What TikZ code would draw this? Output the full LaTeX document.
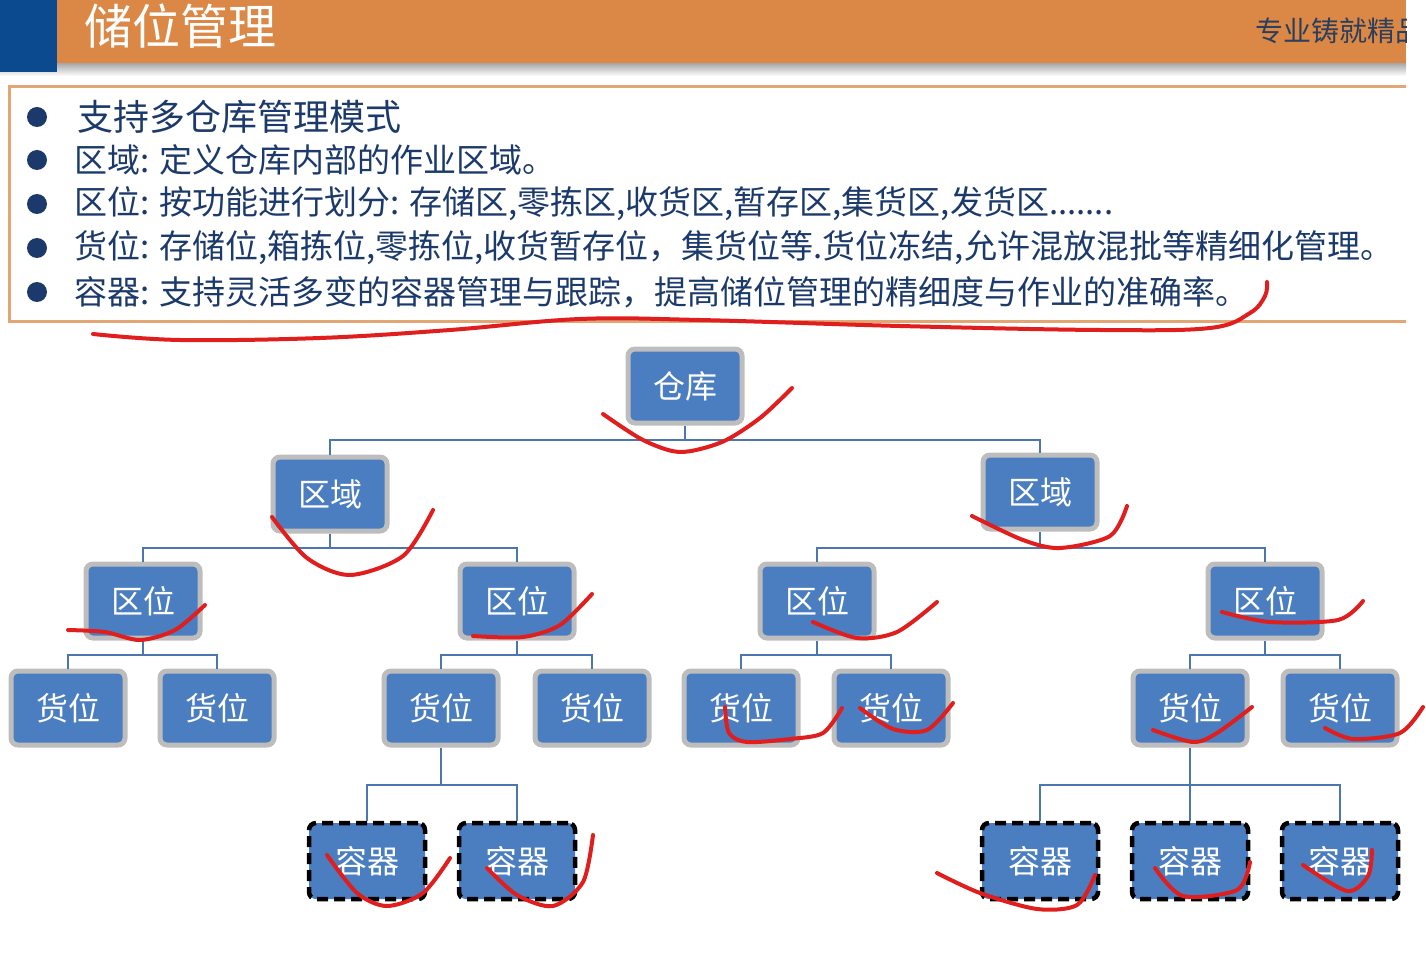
\documentclass[tikz,border=0pt]{standalone}
\usepackage{fontspec}
\newfontfamily\cjk{Noto Sans CJK SC}
\definecolor{hblue}{HTML}{0B4A8E}
\definecolor{horange}{HTML}{DB8746}
\definecolor{navy}{HTML}{1B3A6B}
\definecolor{nodeblue}{HTML}{4A7EC0}
\definecolor{nodegray}{HTML}{BDBDBD}
\definecolor{connblue}{HTML}{4C76AE}
\definecolor{boxorange}{HTML}{E2A574}
\definecolor{inkred}{HTML}{E01E1E}
\definecolor{slogan}{HTML}{2B3F5C}
\tikzset{
  box/.style={rectangle, rounded corners=7pt, fill=nodeblue, draw=nodegray, line width=5pt,
    minimum width=114pt, minimum height=74pt, inner sep=0pt, text=white,
    font=\cjk\fontsize{32}{32}\selectfont},
  cbox/.style={box, draw=black, line width=4.5pt, dash pattern=on 11pt off 6pt,
    minimum width=116pt, minimum height=76pt},
  conn/.style={draw=connblue, line width=2.5pt},
  ink/.style={draw=inkred, line width=4pt, line cap=round, line join=round},
  bullettext/.style={anchor=west, text=navy, inner sep=0pt, font=\cjk\fontsize{33}{33}\selectfont},
  dot/.style={circle, fill=navy, minimum size=20pt, inner sep=0pt}
}
\begin{document}
\begin{tikzpicture}[x=1pt,y=-1pt]
\useasboundingbox (0,0) rectangle (1426,973);
\begin{scope}
\clip (0,0) rectangle (1406,973);
% header
\shade[top color=black!35, bottom color=white] (0,63) rectangle (1406,76);
\fill[horange] (57,0) rectangle (1406,63);
\fill[hblue] (0,0) rectangle (57,72);
\node[anchor=west, text=white, inner sep=0pt, font=\cjk\fontsize{48}{48}\selectfont] (title) at (84,26) {储位管理};
\node[anchor=west, text=slogan, inner sep=0pt, font=\cjk\fontsize{28}{28}\selectfont] (slogan) at (1255,31) {专业铸就精品};
% text box
\draw[boxorange, line width=3pt] (1410,87) -- (9,87) -- (9,322) -- (1410,322);
\end{scope}
\node[dot] (d1) at (37,117) {};
\node[dot] (d2) at (37,160) {};
\node[dot] (d3) at (37,204) {};
\node[dot] (d4) at (37,248) {};
\node[dot] (d5) at (37,292) {};
\node[bullettext, font=\cjk\fontsize{36}{36}\selectfont] (t1) at (77,117) {支持多仓库管理模式};
\node[bullettext] (t2) at (74,160) {区域: 定义仓库内部的作业区域。};
\node[bullettext] (t3) at (74,204) {区位: 按功能进行划分: 存储区,零拣区,收货区,暂存区,集货区,发货区.......};
\node[bullettext] (t4) at (74,248) {货位: 存储位,箱拣位,零拣位,收货暂存位，集货位等.货位冻结,允许混放混批等精细化管理。};
\node[bullettext] (t5) at (74,292) {容器: 支持灵活多变的容器管理与跟踪，提高储位管理的精细度与作业的准确率。};
% tree nodes
\node[box] (ck) at (685,386) {仓库};
\node[box] (qy1) at (330,494) {区域};
\node[box] (qy2) at (1040,492) {区域};
\node[box] (qw1) at (143,601) {区位};
\node[box] (qw2) at (517,601) {区位};
\node[box] (qw3) at (817,601) {区位};
\node[box] (qw4) at (1265,601) {区位};
\node[box] (hw1) at (68,708) {货位};
\node[box] (hw2) at (217,708) {货位};
\node[box] (hw3) at (441,708) {货位};
\node[box] (hw4) at (592,708) {货位};
\node[box] (hw5) at (741,708) {货位};
\node[box] (hw6) at (891,708) {货位};
\node[box] (hw7) at (1190,708) {货位};
\node[box] (hw8) at (1340,708) {货位};
\node[cbox] (rq1) at (367,861) {容器};
\node[cbox] (rq2) at (517,861) {容器};
\node[cbox] (rq3) at (1040,861) {容器};
\node[cbox] (rq4) at (1190,861) {容器};
\node[cbox] (rq5) at (1340,861) {容器};
% connectors
\coordinate (b0) at (685,440);
\draw[conn] (ck.south) -- (b0) -| (qy1.north);
\draw[conn] (b0) -| (qy2.north);
\coordinate (b1) at (330,548);
\draw[conn] (qy1.south) -- (b1) -| (qw1.north);
\draw[conn] (b1) -| (qw2.north);
\coordinate (b2) at (1040,548);
\draw[conn] (qy2.south) -- (b2) -| (qw3.north);
\draw[conn] (b2) -| (qw4.north);
\coordinate (b3) at (143,655);
\draw[conn] (qw1.south) -- (b3) -| (hw1.north);
\draw[conn] (b3) -| (hw2.north);
\coordinate (b4) at (517,655);
\draw[conn] (qw2.south) -- (b4) -| (hw3.north);
\draw[conn] (b4) -| (hw4.north);
\coordinate (b5) at (817,655);
\draw[conn] (qw3.south) -- (b5) -| (hw5.north);
\draw[conn] (b5) -| (hw6.north);
\coordinate (b6) at (1265,655);
\draw[conn] (qw4.south) -- (b6) -| (hw7.north);
\draw[conn] (b6) -| (hw8.north);
\coordinate (b7) at (441,785);
\draw[conn] (hw3.south) -- (b7) -| (rq1.north);
\draw[conn] (b7) -| (rq2.north);
\coordinate (b8) at (1190,785);
\draw[conn] (hw7.south) -- (b8) -| (rq3.north);
\draw[conn] (b8) -- (rq4.north);
\draw[conn] (b8) -| (rq5.north);
% red hand-drawn marks
\draw[ink] plot[smooth, tension=0.6] coordinates {(93,334) (180,340) (320,338) (450,330) (580,319) (700,320) (900,326) (1100,330) (1210,328) (1250,313) (1265,296) (1267,282)};
\draw[ink] plot[smooth] coordinates {(603,414) (643,440) (680,452) (722,442) (760,418) (792,388)};
\draw[ink] plot[smooth] coordinates {(272,517) (307,558) (350,575) (403,556) (433,510)};
\draw[ink] plot[smooth] coordinates {(972,516) (1023,540) (1060,548) (1110,536) (1127,506)};
\draw[ink] plot[smooth] coordinates {(68,630) (105,632) (140,640) (175,630) (205,605)};
\draw[ink] plot[smooth] coordinates {(473,636) (523,637) (560,625) (592,594)};
\draw[ink] plot[smooth] coordinates {(813,622) (857,638) (897,632) (937,602)};
\draw[ink] plot[smooth] coordinates {(1222,612) (1270,622) (1338,620) (1363,601)};
\draw[ink] plot[smooth] coordinates {(725,707) (729,733) (747,742) (790,739) (823,733) (842,708)};
\draw[ink] plot[smooth] coordinates {(860,708) (893,729) (927,730) (953,703)};
\draw[ink] plot[smooth] coordinates {(1153,730) (1193,742) (1217,733) (1252,707)};
\draw[ink] plot[smooth] coordinates {(1325,728) (1353,739) (1400,733) (1423,707)};
\draw[ink] plot[smooth] coordinates {(327,855) (357,893) (387,906) (423,893) (450,858)};
\draw[ink] plot[smooth] coordinates {(487,868) (517,895) (553,906) (583,882) (593,835)};
\draw[ink] plot[smooth] coordinates {(937,873) (980,893) (1037,909) (1077,905) (1095,875)};
\draw[ink] plot[smooth] coordinates {(1155,868) (1183,896) (1237,890) (1250,862)};
\draw[ink] plot[smooth] coordinates {(1303,865) (1347,891) (1368,876) (1372,850)};
\end{tikzpicture}
\end{document}
